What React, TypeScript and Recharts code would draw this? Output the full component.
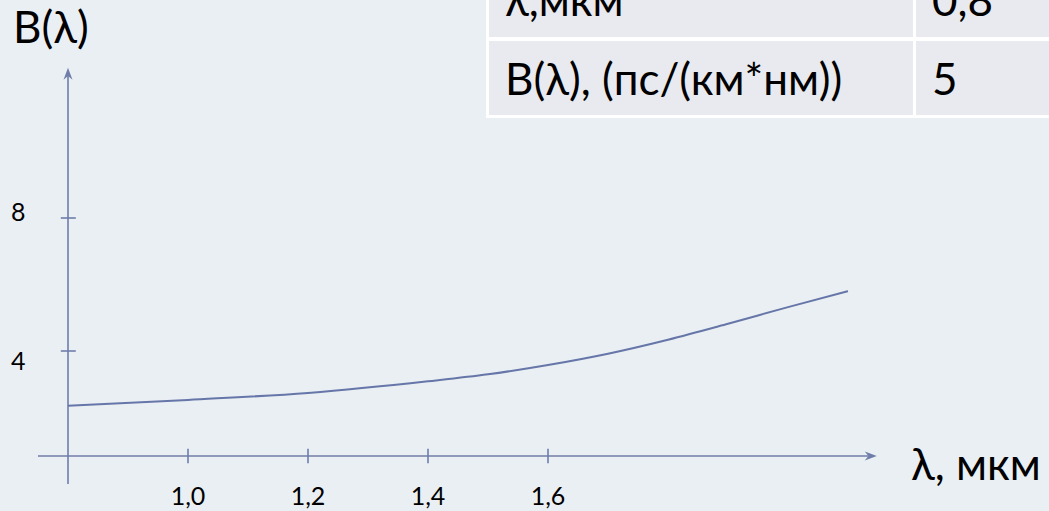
import React from "react";
import { Line, LineChart, ReferenceLine, XAxis, YAxis } from "recharts";

// wavelength, µm
const wavelengths = [0.8, 1.0, 1.2, 1.4, 1.5, 1.6, 1.7, 1.8, 1.9, 2.0, 2.1];
// B(λ)
const dispersion = [2.35, 2.53, 2.74, 3.09, 3.3, 3.58, 3.92, 4.34, 4.82, 5.32, 5.8];
const xTicks = [1.0, 1.2, 1.4, 1.6];
const yTicks = [4, 8];
const tableLabels = ["λ,мкм", "B(λ), (пс/(км*нм))"];
const tableValues = ["0,8", "5"];

const W = 1049;
const H = 511;
const BG = "#EAEFF4";
const CELL = "#E8EAEF";
const AXIS = "#6F7DAA";
const FONT = "Lato, Carlito, 'Open Sans', sans-serif";
const BIG = 44;

// scale setup so the plot fills the whole page
const X_MIN = 0.8 - 68 / 600;
const X_MAX = 0.8 + (W - 68) / 600;
const Y_MAX = 484 / 33.25;
const Y_MIN = -(H - 484) / 33.25;
const X_AXIS_AT = 0.842;
const yLabelDy: Record<number, number> = { 8: 3, 4: 19 };

const data = wavelengths.map((l, i) => ({ l, b: dispersion[i] }));

const fmt = (v: number) => v.toFixed(1).replace(".", ",");

const ArrowLine = (props: any) => {
  const { x1, y1, x2, y2 } = props;
  const dx = x2 - x1;
  const dy = y2 - y1;
  const len = Math.sqrt(dx * dx + dy * dy) || 1;
  const ux = dx / len;
  const uy = dy / len;
  const px = -uy;
  const py = ux;
  const hl = 12;
  const hw = 4.5;
  const bx = x2 - ux * hl;
  const by = y2 - uy * hl;
  const nx = x2 - ux * hl * 0.7;
  const ny = y2 - uy * hl * 0.7;
  return (
    <g>
      <line x1={x1} y1={y1} x2={nx} y2={ny} stroke={AXIS} strokeWidth={1.6} />
      <polygon
        points={`${x2},${y2} ${bx + px * hw},${by + py * hw} ${nx},${ny} ${bx - px * hw},${by - py * hw}`}
        fill={AXIS}
      />
    </g>
  );
};

const XTick = (props: any) => {
  const { x1, y1, x2, y2, value } = props;
  return (
    <g>
      <line x1={x1} y1={y1} x2={x2} y2={y2} stroke={AXIS} strokeWidth={1.6} />
      <text x={x1} y={Math.max(y1, y2) + 42} textAnchor="middle" fontSize={25} fontFamily={FONT} fill="#000">
        {fmt(value)}
      </text>
    </g>
  );
};

const YTick = (props: any) => {
  const { x1, y1, x2, y2, value } = props;
  return (
    <g>
      <line x1={x1} y1={y1} x2={x2} y2={y2} stroke={AXIS} strokeWidth={1.6} />
      <text x={11} y={y1 + (yLabelDy[value] ?? 0)} fontSize={25} fontFamily={FONT} fill="#000">
        {value}
      </text>
    </g>
  );
};

export default function App() {
  return (
    <div style={{ position: "fixed", left: 0, top: 0, width: W, height: H, background: BG, overflow: "hidden" }}>
      <LineChart width={W} height={H} data={data} margin={{ top: 0, right: 0, bottom: 0, left: 0 }}>
        <XAxis dataKey="l" type="number" domain={[X_MIN, X_MAX]} allowDataOverflow hide />
        <YAxis type="number" domain={[Y_MIN, Y_MAX]} allowDataOverflow hide />
        <ReferenceLine
          segment={[{ x: 0.75, y: X_AXIS_AT }, { x: 2.148, y: X_AXIS_AT }]}
          shape={ArrowLine}
          ifOverflow="visible"
        />
        <ReferenceLine
          segment={[{ x: 0.8, y: 0 }, { x: 0.8, y: 12.52 }]}
          shape={ArrowLine}
          ifOverflow="visible"
        />
        {xTicks.map((t) => (
          <ReferenceLine
            key={`xt-${t}`}
            segment={[{ x: t, y: X_AXIS_AT - 0.22 }, { x: t, y: X_AXIS_AT + 0.22 }]}
            shape={(p: any) => <XTick {...p} value={t} />}
            ifOverflow="visible"
          />
        ))}
        {yTicks.map((t) => (
          <ReferenceLine
            key={`yt-${t}`}
            segment={[{ x: 0.788, y: t }, { x: 0.813, y: t }]}
            shape={(p: any) => <YTick {...p} value={t} />}
            ifOverflow="visible"
          />
        ))}
        <Line
          type="monotone"
          dataKey="b"
          stroke="#6676A8"
          strokeWidth={2}
          dot={false}
          activeDot={false}
          isAnimationActive={false}
        />
      </LineChart>

      <svg width={W} height={H} style={{ position: "absolute", left: 0, top: 0 }}>
        <text x={13} y={43} fontSize={BIG} fontFamily={FONT} fill="#000">B(λ)</text>
        <text x={911} y={480} fontSize={BIG} fontFamily={FONT} fill="#000">λ, мкм</text>

        <rect x={486} y={-40} width={600} height={158} fill="#fff" />
        {tableLabels.map((label, i) => (
          <g key={label}>
            <rect x={489} y={-37 + i * 78} width={424} height={74} fill={CELL} />
            <rect x={916} y={-37 + i * 78} width={200} height={74} fill={CELL} />
            <text x={505} y={16 + i * 79} fontSize={BIG} fontFamily={FONT} fill="#000">{label}</text>
            <text x={932} y={16 + i * 79} fontSize={BIG} fontFamily={FONT} fill="#000">{tableValues[i]}</text>
          </g>
        ))}
      </svg>
    </div>
  );
}
